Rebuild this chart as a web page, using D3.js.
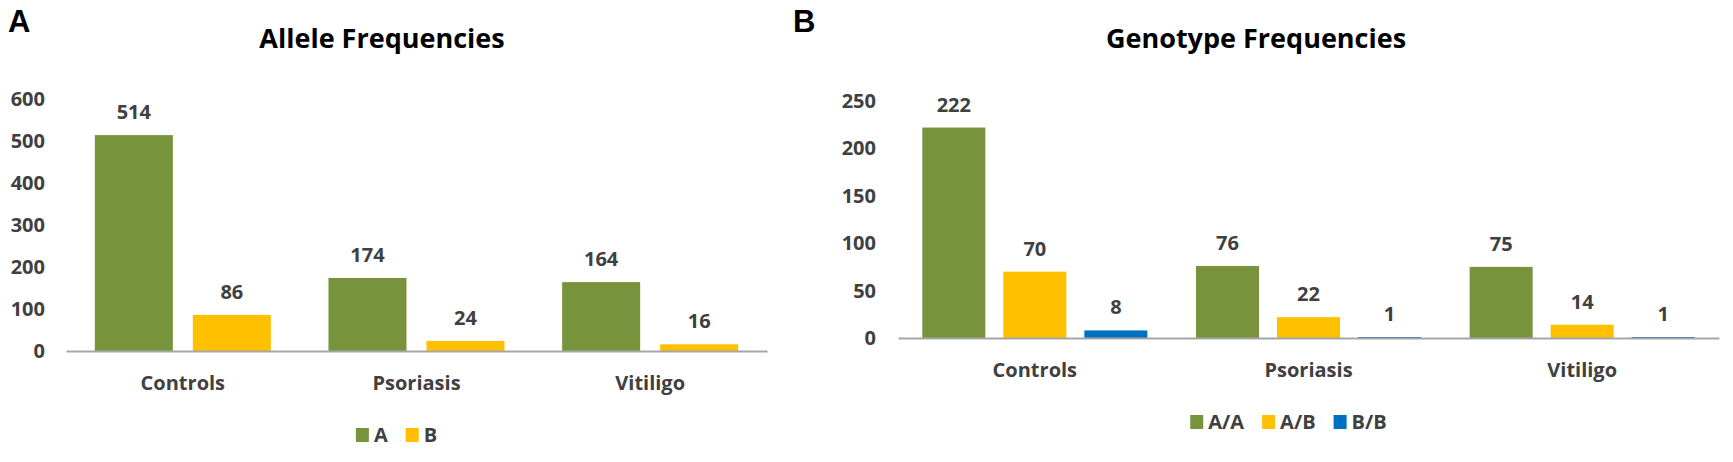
<!DOCTYPE html>
<html>
<head>
<meta charset="utf-8">
<script src="https://cdn.jsdelivr.net/npm/d3@7"></script>
<style>
  body { margin: 0; background: #fff; }
  text { font-family: 'Open Sans', 'DejaVu Sans', sans-serif; }
</style>
</head>
<body>
<svg id="chart" width="1733" height="462"></svg>
<script>
// values
var categories = ['Controls', 'Psoriasis', 'Vitiligo'];

var alleleSeries = ['A', 'B'];
var alleleA = [514, 174, 164];
var alleleB = [86, 24, 16];
var alleleTicks = [0, 100, 200, 300, 400, 500, 600];

var genotypeSeries = ['A/A', 'A/B', 'B/B'];
var genoAA = [222, 76, 75];
var genoAB = [70, 22, 14];
var genoBB = [8, 1, 1];
var genoTicks = [0, 50, 100, 150, 200, 250];

var colors = ['#77933c', '#ffc000', '#0070c0'];

var svg = d3.select('#chart');

function drawPanel(opt) {
    var g = svg.append('g');

    var x0 = d3.scaleBand()
        .domain(categories)
        .range([opt.left, opt.right]);

    var x1 = d3.scaleBand()
        .domain(opt.series)
        .range([0, x0.bandwidth()])
        .paddingInner(opt.gapRatio)
        .paddingOuter(opt.outerRatio);

    var y = d3.scaleLinear()
        .domain([0, d3.max(opt.ticks)])
        .range([opt.bottom, opt.top]);

    // panel letter + title
    g.append('text')
        .attr('x', opt.letterX)
        .attr('y', 32)
        .style('font-family', "'Liberation Sans', Arial, sans-serif")
        .style('font-weight', 'bold')
        .style('font-size', '31px')
        .text(opt.letter);

    g.append('text')
        .attr('x', opt.titleX)
        .attr('y', 48)
        .attr('text-anchor', 'middle')
        .style('font-weight', 'bold')
        .style('font-size', '27px')
        .style('fill', '#000')
        .text(opt.title);

    // y tick labels, no axis line
    var yAxis = g.append('g')
        .attr('transform', 'translate(' + opt.labelRight + ',0)')
        .call(d3.axisLeft(y).tickValues(opt.ticks).tickSize(0).tickPadding(0));
    yAxis.select('.domain').remove();
    yAxis.selectAll('text')
        .style('font-family', "'Open Sans', sans-serif")
        .style('font-weight', 'bold')
        .style('font-size', '20px')
        .style('fill', '#404040');

    // bars
    var rows = categories.map(function (c, i) {
        return opt.series.map(function (s, j) {
            return { cat: c, key: s, value: opt.values[j][i], idx: j };
        });
    });

    var groups = g.selectAll('g.cat')
        .data(rows)
        .enter()
        .append('g')
        .attr('class', 'cat')
        .attr('transform', function (d, i) {
            return 'translate(' + x0(categories[i]) + ',0)';
        });

    groups.selectAll('rect')
        .data(function (d) { return d; })
        .enter()
        .append('rect')
        .attr('x', function (d) { return x1(d.key); })
        .attr('y', function (d) { return y(d.value); })
        .attr('width', x1.bandwidth())
        .attr('height', function (d) { return y(0) - y(d.value); })
        .style('fill', function (d) { return colors[d.idx]; });

    groups.selectAll('text.val')
        .data(function (d) { return d; })
        .enter()
        .append('text')
        .attr('class', 'val')
        .attr('x', function (d) { return x1(d.key) + x1.bandwidth() / 2; })
        .attr('y', function (d) { return y(d.value) - 16; })
        .attr('text-anchor', 'middle')
        .style('font-weight', 'bold')
        .style('font-size', '20px')
        .style('fill', '#404040')
        .text(function (d) { return d.value; });

    // category axis
    var xAxis = g.append('g')
        .attr('transform', 'translate(0,' + opt.bottom + ')')
        .call(d3.axisBottom(x0).tickSize(0).tickSizeOuter(0).tickPadding(0));
    xAxis.select('.domain')
        .style('stroke', '#a6a6a6')
        .style('stroke-width', 2);
    xAxis.selectAll('text')
        .attr('dy', null)
        .attr('y', 39)
        .style('font-family', "'Open Sans', sans-serif")
        .style('font-weight', 'bold')
        .style('font-size', '20px')
        .style('fill', '#404040');

    // legend
    var legend = g.append('g');
    var items = legend.selectAll('g.item')
        .data(opt.series)
        .enter()
        .append('g')
        .attr('class', 'item');
    items.append('rect')
        .attr('width', 13)
        .attr('height', 14)
        .attr('y', -14)
        .style('fill', function (d, i) { return colors[i]; });
    items.append('text')
        .attr('x', 18)
        .style('font-weight', 'bold')
        .style('font-size', '20px')
        .style('fill', '#404040')
        .text(function (d) { return d; });

    var xpos = 0;
    items.each(function () {
        var w = 18 + d3.select(this).select('text').node().getComputedTextLength();
        d3.select(this).attr('transform', 'translate(' + xpos + ',0)');
        xpos += w + 18;
    });
    var total = xpos - 18;
    var mid = (opt.left + opt.right) / 2 - 20;
    legend.attr('transform', 'translate(' + (mid - total / 2) + ',' + (opt.bottom + 91) + ')');
}

drawPanel({
    letter: 'A',
    letterX: 8,
    title: 'Allele Frequencies',
    titleX: 382,
    series: alleleSeries,
    values: [alleleA, alleleB],
    ticks: alleleTicks,
    left: 66,
    right: 767,
    top: 99,
    bottom: 351,
    labelRight: 45,
    gapRatio: 0.204,
    outerRatio: 0.294
});

drawPanel({
    letter: 'B',
    letterX: 793,
    title: 'Genotype Frequencies',
    titleX: 1256,
    series: genotypeSeries,
    values: [genoAA, genoAB, genoBB],
    ticks: genoTicks,
    left: 898,
    right: 1719,
    top: 101,
    bottom: 338,
    labelRight: 876,
    gapRatio: 0.222,
    outerRatio: 0.30
});
</script>
</body>
</html>
